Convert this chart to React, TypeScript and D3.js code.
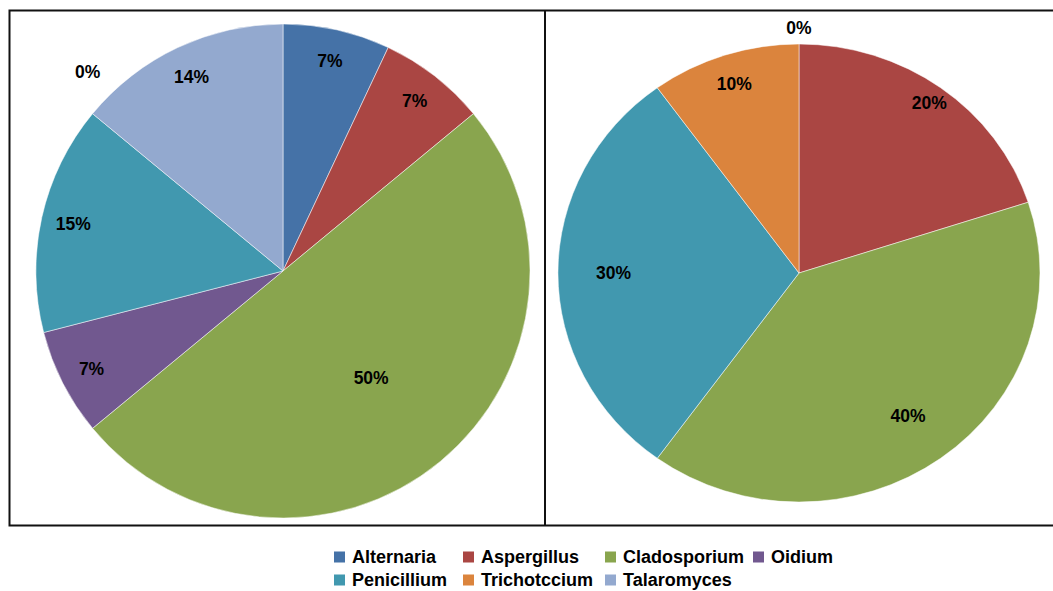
import React from 'react';
import * as d3 from 'd3';

const categories = ['Alternaria', 'Aspergillus', 'Cladosporium', 'Oidium', 'Penicillium', 'Trichotccium', 'Talaromyces'];
const colors = ['#4572A7', '#AA4643', '#89A54E', '#71588F', '#4198AF', '#DB843D', '#93A9CF'];

// percentages, null = not present in that sample
const leftValues: (number | null)[] = [7, 7, 50, 7, 15, 0, 14];
const rightValues: (number | null)[] = [0, 20, 40, null, 30, 10, null];

interface PieProps {
  values: (number | null)[];
  cx: number;
  cy: number;
  rx: number;
  ry: number;
  bigLabel: number;
  zeroLabel: number;
  zeroShift: number; // degrees
}

const FONT = "'Liberation Sans', Arial, sans-serif";

const Pie: React.FC<PieProps> = ({ values, cx, cy, rx, ry, bigLabel, zeroLabel, zeroShift }) => {
  const items = categories.map((c, i) => ({ name: c, color: colors[i], value: values[i] }));
  const pie = d3.pie<typeof items[0]>().sort(null).value(d => d.value ?? 0);
  const arcs = pie(items);
  const arc = d3.arc<d3.PieArcDatum<typeof items[0]>>().innerRadius(0).outerRadius(1);

  const labelFactor = (v: number) => (v === 0 ? zeroLabel : v >= 30 ? bigLabel : v >= 20 ? 0.92 : 0.87);

  return (
    <g transform={`translate(${cx},${cy})`}>
      <g transform={`scale(${rx},${ry})`}>
        {arcs.filter(a => (a.data.value ?? 0) > 0).map(a => (
          <path key={a.data.name} d={arc(a) || ''} fill={a.data.color}
            stroke="#ffffff" strokeOpacity={0.5} strokeWidth={1} vectorEffect="non-scaling-stroke" />
        ))}
      </g>
      {arcs.filter(a => a.data.value !== null).map(a => {
        const v = a.data.value as number;
        let mid = (a.startAngle + a.endAngle) / 2;
        if (v === 0) mid += (zeroShift * Math.PI) / 180;
        const f = labelFactor(v);
        const x = Math.sin(mid) * rx * f;
        const y = -Math.cos(mid) * ry * f;
        return (
          <text key={a.data.name} x={x} y={y} textAnchor="middle" dominantBaseline="central"
            fontFamily={FONT} fontWeight="bold" fontSize={17.5} fill="#000">
            {`${v}%`}
          </text>
        );
      })}
    </g>
  );
};

const legendCols = [334, 463, 605, 753];
const legendRows = [557, 580];

const App: React.FC = () => {
  return (
    <svg width={1053} height={591} style={{ position: 'absolute', left: 0, top: 0, background: '#fff' }}>
      <rect x={0} y={0} width={1053} height={591} fill="#fff" />
      <Pie values={leftValues} cx={283} cy={271} rx={247} ry={247} bigLabel={0.56} zeroLabel={1.13} zeroShift={6} />
      <Pie values={rightValues} cx={799} cy={273} rx={241} ry={229} bigLabel={0.77} zeroLabel={1.07} zeroShift={0} />

      {/* frame */}
      <path d="M1060,10.5 H9.5 V525.5 H1060" fill="none" stroke="#111" strokeWidth={2} />
      <line x1={545} x2={545} y1={10} y2={526} stroke="#111" strokeWidth={2} />

      {/* legend */}
      {categories.map((c, i) => {
        const x = legendCols[i % 4];
        const y = legendRows[Math.floor(i / 4)];
        return (
          <g key={c}>
            <rect x={x} y={y - 5.5} width={11} height={11} fill={colors[i]} />
            <text x={x + 18} y={y} dominantBaseline="central"
              fontFamily={FONT} fontWeight="bold" fontSize={18} fill="#000">
              {c}
            </text>
          </g>
        );
      })}
    </svg>
  );
};

export default App;
